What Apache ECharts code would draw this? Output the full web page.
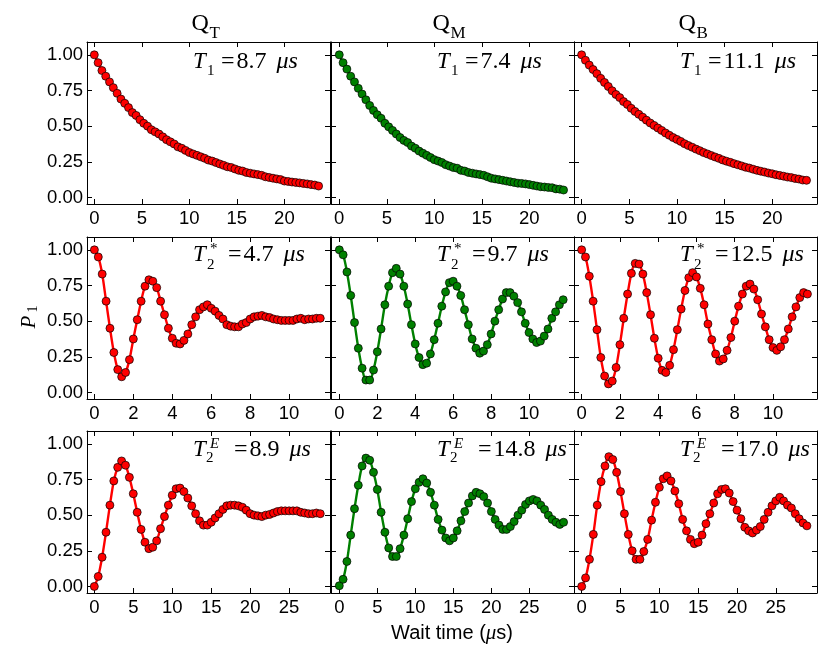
<!DOCTYPE html>
<html>
<head>
<meta charset="utf-8">
<script src="https://cdn.jsdelivr.net/npm/echarts@6/dist/echarts.min.js"></script>
<style>
html, body { margin: 0; background: #fff; }
#chart { width: 830px; height: 664px; }
</style>
</head>
<body>
<div id="chart"></div>
<script>
// wait times (us)
var t1Time = [0,0.4,0.8,1.2,1.6,2,2.4,2.8,3.2,3.6,4,4.4,4.8,5.2,5.6,6,6.4,6.8,7.2,7.6,
  8,8.4,8.8,9.2,9.6,10,10.4,10.8,11.2,11.6,12,12.4,12.8,13.2,13.6,14,14.4,14.8,15.2,15.6,
  16,16.4,16.8,17.2,17.6,18,18.4,18.8,19.2,19.6,20,20.4,20.8,21.2,21.6,22,22.4,22.8,23.2,23.6];
var ramseyTime = [0,0.2,0.4,0.6,0.8,1,1.2,1.4,1.6,1.8,2,2.2,2.4,2.6,2.8,3,3.2,3.4,3.6,3.8,
  4,4.2,4.4,4.6,4.8,5,5.2,5.4,5.6,5.8,6,6.2,6.4,6.6,6.8,7,7.2,7.4,7.6,7.8,
  8,8.2,8.4,8.6,8.8,9,9.2,9.4,9.6,9.8,10,10.2,10.4,10.6,10.8,11,11.2,11.4,11.6,11.8];
var echoTime = [0,0.5,1,1.5,2,2.5,3,3.5,4,4.5,5,5.5,6,6.5,7,7.5,8,8.5,9,9.5,
  10,10.5,11,11.5,12,12.5,13,13.5,14,14.5,15,15.5,16,16.5,17,17.5,18,18.5,19,19.5,
  20,20.5,21,21.5,22,22.5,23,23.5,24,24.5,25,25.5,26,26.5,27,27.5,28,28.5,29,29.5];

// P1, T1 decay
var t1QT = [1.00,0.945,0.89,0.85,0.81,0.77,0.73,0.69,0.66,0.63,
  0.595,0.575,0.545,0.52,0.50,0.475,0.46,0.445,0.425,0.405,
  0.39,0.375,0.355,0.345,0.33,0.315,0.305,0.295,0.285,0.275,
  0.262,0.255,0.245,0.235,0.225,0.215,0.21,0.2,0.19,0.185,
  0.175,0.17,0.165,0.16,0.155,0.145,0.14,0.135,0.13,0.125,
  0.115,0.112,0.108,0.105,0.102,0.098,0.095,0.09,0.087,0.08];
var t1QM = [1.00,0.945,0.90,0.85,0.81,0.765,0.725,0.685,0.645,0.61,
  0.58,0.555,0.52,0.495,0.47,0.445,0.42,0.40,0.385,0.36,
  0.345,0.325,0.31,0.295,0.28,0.265,0.255,0.245,0.23,0.22,
  0.21,0.205,0.19,0.185,0.175,0.17,0.165,0.16,0.155,0.145,
  0.135,0.13,0.125,0.12,0.115,0.11,0.105,0.10,0.098,0.095,
  0.09,0.085,0.08,0.075,0.073,0.07,0.068,0.06,0.058,0.052];
var t1QB = [1.00,0.962,0.928,0.897,0.868,0.835,0.806,0.778,0.748,0.722,
  0.70,0.672,0.652,0.625,0.603,0.583,0.563,0.542,0.522,0.505,
  0.487,0.47,0.452,0.436,0.42,0.407,0.393,0.377,0.364,0.352,
  0.339,0.328,0.315,0.305,0.294,0.284,0.274,0.263,0.254,0.246,
  0.237,0.229,0.221,0.212,0.206,0.198,0.19,0.184,0.178,0.171,
  0.166,0.159,0.154,0.149,0.143,0.139,0.133,0.129,0.122,0.12];

// P1, Ramsey
var ramseyQT = [1.00,0.95,0.83,0.64,0.45,0.28,0.16,0.11,0.14,0.23,
  0.375,0.51,0.64,0.745,0.79,0.78,0.735,0.64,0.545,0.45,
  0.38,0.345,0.34,0.365,0.41,0.475,0.53,0.58,0.60,0.615,
  0.59,0.57,0.54,0.515,0.475,0.465,0.46,0.46,0.48,0.49,
  0.515,0.53,0.535,0.54,0.53,0.525,0.515,0.51,0.505,0.505,
  0.505,0.505,0.515,0.52,0.51,0.515,0.515,0.52,0.52];
var ramseyQM = [1.00,0.965,0.845,0.68,0.49,0.31,0.17,0.087,0.087,0.157,
  0.285,0.445,0.615,0.745,0.84,0.87,0.83,0.745,0.62,0.475,
  0.34,0.245,0.195,0.205,0.27,0.37,0.485,0.605,0.705,0.77,
  0.78,0.745,0.68,0.58,0.475,0.375,0.31,0.275,0.29,0.335,
  0.41,0.50,0.58,0.655,0.70,0.70,0.675,0.63,0.565,0.485,
  0.42,0.375,0.35,0.36,0.395,0.445,0.52,0.565,0.615,0.65];
var ramseyQB = [1.00,0.95,0.815,0.64,0.44,0.245,0.115,0.06,0.08,0.175,
  0.335,0.52,0.69,0.835,0.905,0.90,0.83,0.70,0.545,0.38,
  0.24,0.155,0.14,0.19,0.30,0.44,0.585,0.715,0.805,0.84,
  0.81,0.73,0.615,0.48,0.37,0.27,0.22,0.235,0.295,0.385,
  0.50,0.605,0.69,0.745,0.76,0.725,0.65,0.55,0.46,0.37,
  0.315,0.295,0.32,0.37,0.445,0.53,0.60,0.665,0.70,0.69];

// P1, echo
var echoQT = [0.00,0.07,0.205,0.38,0.57,0.74,0.835,0.88,0.85,0.765,
  0.65,0.52,0.40,0.31,0.265,0.275,0.32,0.405,0.49,0.57,
  0.64,0.685,0.69,0.665,0.62,0.565,0.51,0.46,0.43,0.43,
  0.45,0.48,0.51,0.54,0.565,0.57,0.57,0.565,0.555,0.535,
  0.51,0.50,0.495,0.49,0.50,0.505,0.515,0.525,0.53,0.53,
  0.53,0.53,0.53,0.52,0.515,0.51,0.51,0.515,0.51];
var echoQM = [0.005,0.05,0.175,0.36,0.545,0.71,0.845,0.90,0.885,0.80,
  0.68,0.52,0.38,0.27,0.21,0.21,0.265,0.36,0.475,0.595,
  0.685,0.73,0.755,0.725,0.66,0.57,0.47,0.395,0.34,0.32,
  0.34,0.39,0.46,0.525,0.585,0.635,0.66,0.65,0.63,0.585,
  0.525,0.47,0.43,0.40,0.40,0.42,0.455,0.50,0.535,0.575,
  0.60,0.61,0.60,0.57,0.54,0.50,0.47,0.45,0.435,0.45];
var echoQB = [0.00,0.06,0.19,0.365,0.57,0.735,0.845,0.91,0.89,0.80,
  0.665,0.51,0.365,0.25,0.19,0.19,0.245,0.33,0.465,0.59,
  0.695,0.755,0.775,0.74,0.67,0.58,0.47,0.39,0.33,0.30,
  0.31,0.36,0.44,0.51,0.585,0.65,0.68,0.685,0.655,0.595,
  0.535,0.475,0.415,0.39,0.375,0.395,0.42,0.47,0.52,0.565,
  0.60,0.625,0.60,0.57,0.55,0.51,0.475,0.445,0.425];

// fitted times shown in each panel
var t1Fit = ['8.7', '7.4', '11.1'];
var ramseyFit = ['4.7', '9.7', '12.5'];
var echoFit = ['8.9', '14.8', '17.0'];

var qubitNames = ['T', 'M', 'B'];
var yTicks = [0, 0.25, 0.5, 0.75, 1];
var t1Ticks = [0, 5, 10, 15, 20];
var ramseyTicks = [0, 2, 4, 6, 8, 10];
var echoTicks = [0, 5, 10, 15, 20, 25];

// layout
var colLeft = [87, 331, 574];
var rowTop = [42, 237, 431];
var gridW = 243, gridH = 162;
var colors = ['#ff0000', '#008000', '#ff0000'];
var serif = '"Liberation Serif", serif';
var sans = '"Liberation Sans", Arial, sans-serif';

var rows = [
  {time: t1Time, ticks: t1Ticks, values: [t1QT, t1QM, t1QB], fits: t1Fit,
   sub: '1', sup: '', xlim: [[-0.77, 24.8], [-0.87, 24.7], [-0.8, 24.7]],
   textY: 62, subDy: 9, supDy: 0, subDx: 14, restDx: 28},
  {time: ramseyTime, ticks: ramseyTicks, values: [ramseyQT, ramseyQM, ramseyQB], fits: ramseyFit,
   sub: '2', sup: '*', xlim: [[-0.38, 12.1], [-0.44, 12.37], [-0.4, 12.3]],
   textY: 255, subDy: 10, supDy: -6, subDx: 14, restDx: 35},
  {time: echoTime, ticks: echoTicks, values: [echoQT, echoQM, echoQB], fits: echoFit,
   sub: '2', sup: 'E', xlim: [[-0.94, 30.25], [-1.09, 30.87], [-0.99, 30.3]],
   textY: 450, subDy: 8, supDy: -6, subDx: 13, restDx: 41}
];

var grids = [], xAxes = [], yAxes = [], series = [], graphics = [];

function axisBase(pos, ticks, showLabel, fmt) {
  return {
    type: 'value', position: pos,
    axisLine: {show: true, onZero: false, lineStyle: {color: '#000', width: 1}},
    axisTick: {show: true, inside: true, length: 5, customValues: ticks, lineStyle: {color: '#000'}},
    axisLabel: {show: showLabel, customValues: ticks, formatter: fmt, color: '#000',
      fontFamily: sans, fontSize: 18.5, margin: 5},
    splitLine: {show: false}
  };
}

rows.forEach(function (row, r) {
  for (var c = 0; c < 3; c++) {
    var gi = r * 3 + c;
    grids.push({left: colLeft[c], top: rowTop[r], width: gridW, height: gridH});

    var xb = axisBase('bottom', row.ticks, true, function (v) { return String(v); });
    var xt = axisBase('top', row.ticks, false);
    [xb, xt].forEach(function (a) {
      a.gridIndex = gi; a.min = row.xlim[c][0]; a.max = row.xlim[c][1];
    });
    xAxes.push(xb, xt);

    var yl = axisBase('left', yTicks, c === 0, function (v) { return v.toFixed(2); });
    yl.axisLabel.margin = 4;
    var yr = axisBase('right', yTicks, false);
    [yl, yr].forEach(function (a) {
      a.gridIndex = gi; a.min = -0.046; a.max = 1.09;
    });
    yAxes.push(yl, yr);

    var vals = row.values[c];
    series.push({
      type: 'line',
      xAxisIndex: 2 * gi, yAxisIndex: 2 * gi,
      data: vals.map(function (v, i) { return [row.time[i], v]; }),
      smooth: 0.3,
      symbol: 'circle', symbolSize: 8, showAllSymbol: true,
      lineStyle: {color: colors[c], width: 2.4},
      itemStyle: {color: colors[c], borderColor: '#000', borderWidth: 0.7},
      emphasis: {disabled: true},
      silent: true
    });

    // T annotation in the corner
    var x0 = colLeft[c] + 106;
    graphics.push({type: 'text', x: x0, y: row.textY,
      style: {text: 'T', font: 'italic 23px ' + serif, fill: '#000', textVerticalAlign: 'middle'}});
    graphics.push({type: 'text', x: x0 + row.subDx, y: row.textY + row.subDy,
      style: {text: row.sub, font: '15px ' + serif, fill: '#000', textVerticalAlign: 'middle'}});
    if (row.sup) {
      graphics.push({type: 'text', x: x0 + 17, y: row.textY + row.supDy,
        style: {text: row.sup, font: (row.sup === 'E' ? 'italic ' : '') + '15px ' + serif,
          fill: '#000', textVerticalAlign: 'middle'}});
    }
    graphics.push({type: 'text', x: x0 + row.restDx, y: row.textY,
      style: {text: '{e|=}{n|' + row.fits[c] + '}{u|\u03bcs}', fill: '#000', textVerticalAlign: 'middle',
        rich: {
          e: {font: '24px ' + serif, padding: [0, 2, 0, 0]},
          n: {font: '24px ' + serif},
          u: {font: 'italic 24px ' + serif, padding: [0, 0, 0, 10]}
        }}});
  }
});

// column titles Q_T, Q_M, Q_B
var titleDx = [-17, -20, -17];
for (var c = 0; c < 3; c++) {
  var cc = colLeft[c] + gridW / 2 + titleDx[c];
  graphics.push({type: 'text', x: cc, y: 24,
    style: {text: 'Q', font: '24px ' + serif, fill: '#000', textVerticalAlign: 'middle'}});
  graphics.push({type: 'text', x: cc + 18, y: 34,
    style: {text: qubitNames[c], font: '17px ' + serif, fill: '#000', textVerticalAlign: 'middle'}});
}

// y label P_1
graphics.push({type: 'text', x: 29, y: 322, rotation: Math.PI / 2,
  style: {text: 'P', font: 'italic 21px ' + serif, fill: '#000', textAlign: 'center', textVerticalAlign: 'middle'}});
graphics.push({type: 'text', x: 33, y: 309, rotation: Math.PI / 2,
  style: {text: '1', font: '14px ' + serif, fill: '#000', textAlign: 'center', textVerticalAlign: 'middle'}});

// x label
graphics.push({type: 'text', x: 452, y: 633,
  style: {text: '{a|Wait time (}{m|\u03bc}{a|s)}', fill: '#000', textAlign: 'center', textVerticalAlign: 'middle',
    rich: {a: {font: '20px ' + sans}, m: {font: 'italic 21px ' + serif}}}});

var chart = echarts.init(document.getElementById('chart'));
chart.setOption({
  animation: false,
  backgroundColor: '#fff',
  grid: grids,
  xAxis: xAxes,
  yAxis: yAxes,
  series: series,
  graphic: graphics
});
</script>
</body>
</html>
